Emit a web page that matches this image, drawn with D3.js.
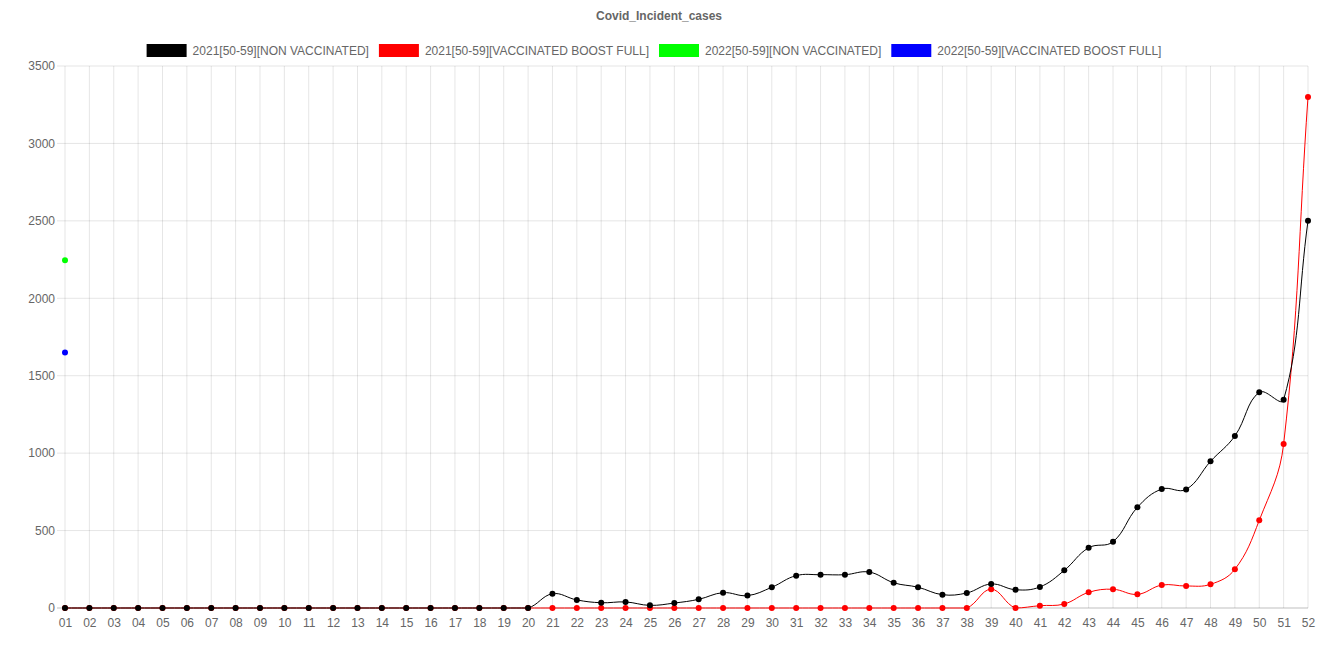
<!DOCTYPE html>
<html>
<head>
<meta charset="utf-8">
<script src="https://cdn.jsdelivr.net/npm/d3@7"></script>
<style>
  body { margin: 0; background: #fff; }
  svg { display: block; font-family: "Liberation Sans", Arial, sans-serif; }
</style>
</head>
<body>
<svg id="chart"></svg>
<script>
const weeks = d3.range(1, 53).map(d => String(d).padStart(2, "0"));
const yTicks = [0, 500, 1000, 1500, 2000, 2500, 3000, 3500];

const nonVacc2021 = [0, 0, 0, 0, 0, 0, 0, 0, 0, 0, 0, 0, 0, 0, 0, 0, 0, 0, 0, 0,
  92, 52, 34, 39, 17, 32, 56, 99, 80, 134, 209, 215, 215, 232, 163, 134, 86, 97,
  155, 118, 136, 243, 389, 428, 650, 768, 766, 947, 1111, 1393, 1345, 2500];
const boost2021 = [0, 0, 0, 0, 0, 0, 0, 0, 0, 0, 0, 0, 0, 0, 0, 0, 0, 0, 0, 0,
  0, 0, 0, 0, 0, 0, 0, 0, 0, 0, 0, 0, 0, 0, 0, 0, 0, 0,
  121, 0, 15, 26, 101, 121, 88, 148, 142, 153, 250, 566, 1059, 3300];
const nonVacc2022 = [2245];
const boost2022 = [1650];

const series = [
  { name: "2021[50-59][NON VACCINATED]", color: "#000000", values: nonVacc2021 },
  { name: "2021[50-59][VACCINATED BOOST FULL]", color: "#ff0000", values: boost2021 },
  { name: "2022[50-59][NON VACCINATED]", color: "#00ff00", values: nonVacc2022 },
  { name: "2022[50-59][VACCINATED BOOST FULL]", color: "#0000ff", values: boost2022 }
];

const width = 1318, height = 659;
const margin = { top: 66, right: 10, bottom: 51, left: 65 };

const svg = d3.select("#chart").attr("width", width).attr("height", height);

const x = d3.scalePoint().domain(weeks).range([margin.left, width - margin.right]);
const y = d3.scaleLinear().domain([0, 3500]).range([height - margin.bottom, margin.top]);

// title
svg.append("text")
   .attr("x", width / 2)
   .attr("y", 20)
   .attr("text-anchor", "middle")
   .attr("font-size", 12)
   .attr("font-weight", "bold")
   .attr("fill", "#666")
   .text("Covid_Incident_cases");

// legend
const legend = svg.append("g");
let lx = 0;
series.forEach(s => {
  const item = legend.append("g").attr("transform", `translate(${lx},0)`);
  item.append("rect").attr("x", 0).attr("y", 44).attr("width", 40).attr("height", 13)
      .attr("fill", s.color);
  const t = item.append("text").attr("x", 46).attr("y", 55)
      .attr("font-size", 12).attr("fill", "#666").text(s.name);
  lx += 46 + t.node().getComputedTextLength() + 10;
});
legend.attr("transform", `translate(${(width - (lx - 10)) / 2 - 5},0)`);

// grid
const gridColor = "rgba(0,0,0,0.1)";
svg.append("g")
   .selectAll("line")
   .data(weeks)
   .join("line")
   .attr("x1", d => x(d)).attr("x2", d => x(d))
   .attr("y1", margin.top).attr("y2", y(0))
   .attr("stroke", gridColor);

svg.append("g")
   .selectAll("line")
   .data(yTicks)
   .join("line")
   .attr("x1", margin.left - 8).attr("x2", width - margin.right)
   .attr("y1", d => y(d)).attr("y2", d => y(d))
   .attr("stroke", d => d === 0 ? "rgba(0,0,0,0.25)" : gridColor);

// axes labels
const yAxis = d3.axisLeft(y).tickValues(yTicks).tickFormat(d3.format("d")).tickSize(0).tickPadding(10);
svg.append("g")
   .attr("transform", `translate(${margin.left},0)`)
   .call(yAxis)
   .call(g => g.select(".domain").remove())
   .call(g => g.selectAll("text").attr("fill", "#666").attr("font-size", 12)
     .attr("font-family", "Liberation Sans, Arial, sans-serif"));

const xAxis = d3.axisBottom(x).tickSize(0).tickPadding(10);
svg.append("g")
   .attr("transform", `translate(0,${y(0)})`)
   .call(xAxis)
   .call(g => g.select(".domain").remove())
   .call(g => g.selectAll("text").attr("fill", "#666").attr("font-size", 12)
     .attr("font-family", "Liberation Sans, Arial, sans-serif"));

// spline similar to the original chart's tension 0.4
function splinePath(pts, t) {
  if (pts.length < 2) return null;
  const cps = pts.map((p, i) => {
    const prev = pts[i - 1] || p, next = pts[i + 1] || p;
    const d01 = Math.hypot(p[0] - prev[0], p[1] - prev[1]);
    const d12 = Math.hypot(next[0] - p[0], next[1] - p[1]);
    const sum = d01 + d12 || 1;
    const fa = t * d01 / sum, fb = t * d12 / sum;
    return {
      prev: [p[0] - fa * (next[0] - prev[0]), p[1] - fa * (next[1] - prev[1])],
      next: [p[0] + fb * (next[0] - prev[0]), p[1] + fb * (next[1] - prev[1])]
    };
  });
  const bottom = y(0), top = margin.top;
  cps.forEach(c => {
    c.prev[1] = Math.max(top, Math.min(bottom, c.prev[1]));
    c.next[1] = Math.max(top, Math.min(bottom, c.next[1]));
  });
  let dStr = `M${pts[0][0]},${pts[0][1]}`;
  for (let i = 1; i < pts.length; i++) {
    const a = cps[i - 1].next, b = cps[i].prev;
    dStr += `C${a[0]},${a[1]},${b[0]},${b[1]},${pts[i][0]},${pts[i][1]}`;
  }
  return dStr;
}

// draw datasets in reverse so the first one sits on top
series.slice().reverse().forEach(s => {
  const pts = s.values.map((v, i) => [x(weeks[i]), y(v)]);
  const g = svg.append("g");
  const path = splinePath(pts, 0.4);
  if (path) {
    g.append("path").attr("d", path).attr("fill", "none")
     .attr("stroke", s.color).attr("stroke-width", 1);
  }
  g.selectAll("circle")
   .data(s.values)
   .join("circle")
   .attr("cx", (d, i) => x(weeks[i]))
   .attr("cy", d => y(d))
   .attr("r", 3)
   .attr("fill", s.color);
});
</script>
</body>
</html>
